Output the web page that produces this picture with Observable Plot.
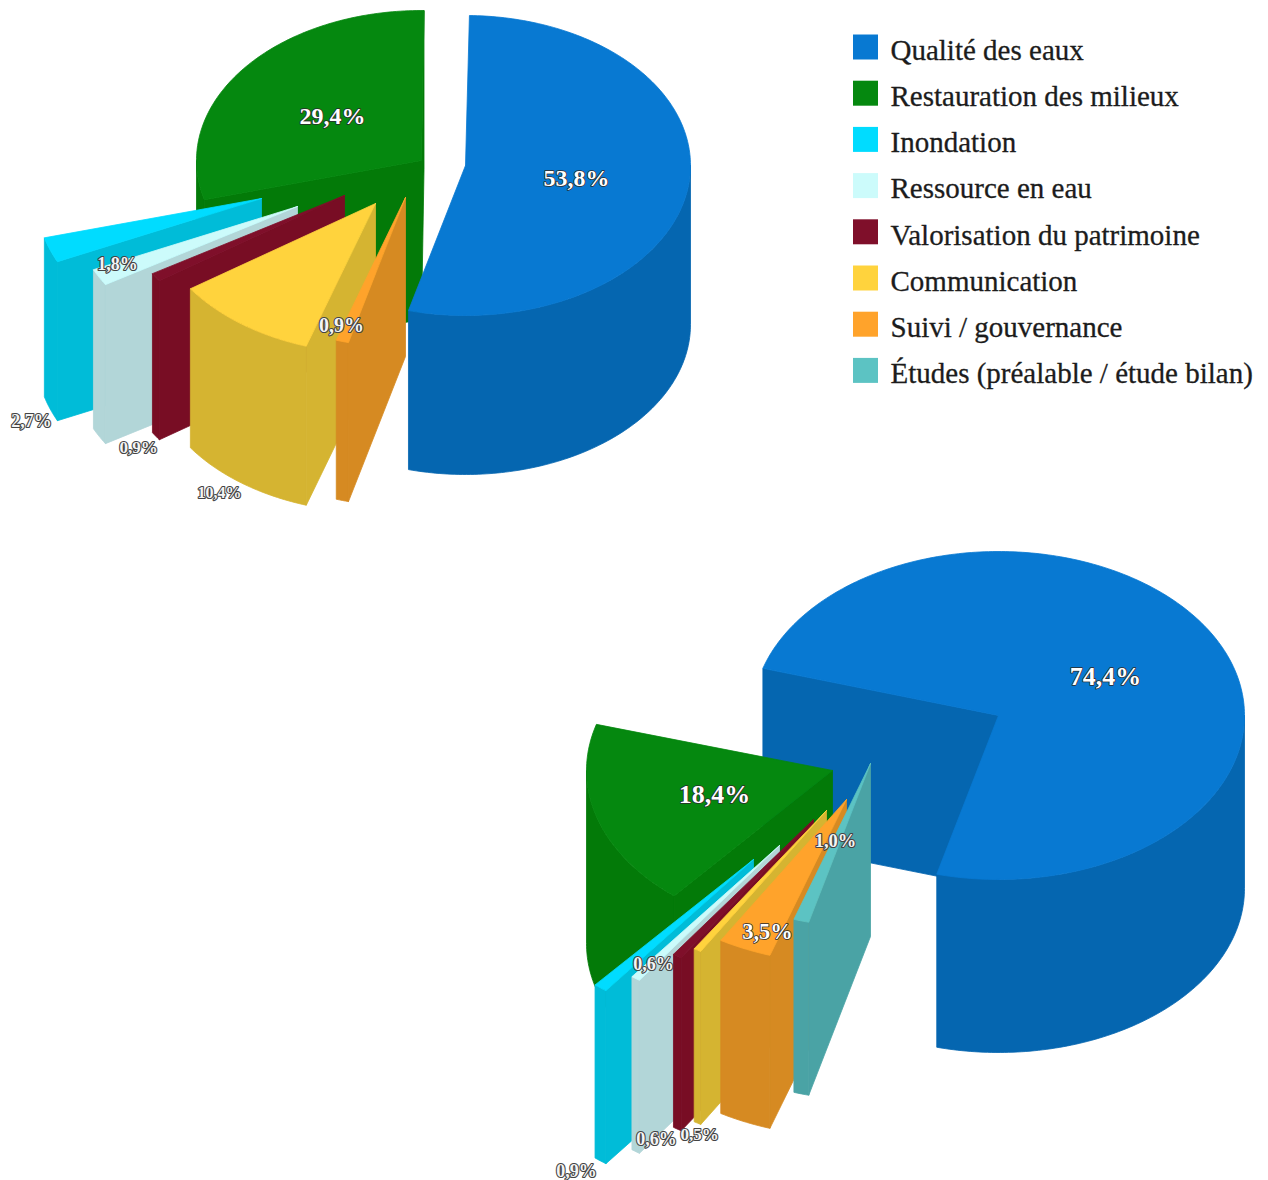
<!DOCTYPE html>
<html>
<head>
<meta charset="utf-8">
<script src="https://cdn.jsdelivr.net/npm/d3@7"></script>
<script src="https://cdn.jsdelivr.net/npm/@observablehq/plot@0.6"></script>
<style>html,body{margin:0;padding:0;background:#fff}svg{display:block}</style>
</head>
<body>
<script>
// ---- data
const categories = ["Qualité des eaux","Restauration des milieux","Inondation","Ressource en eau","Valorisation du patrimoine","Communication","Suivi / gouvernance","Études (préalable / étude bilan)"];
const valuesTop = [53.8, 29.4, 2.7, 1.8, 0.9, 10.4, 0.9, 0];
const valuesBottom = [74.4, 18.4, 0.9, 0.6, 0.6, 0.5, 3.5, 1.0];

// ---- styles
const topColors = ["#0879d2","#05880f","#00dcff","#ccfbfb","#7f0f2a","#ffd33d","#ffa32b","#5cc3c3"];
const wallColors = ["#0566b0","#037a08","#00bcd8","#b2d6d8","#780d24","#d5b431","#d68a22","#4aa3a5"];

// ---- layout: ellipse, depth, start angle, how each slice is pulled out (apex), and its label
const sweep = [0,7,6,5,4,3,2,1];   // clockwise order of the slices, starting at the first slice
const pies = [
  {values: valuesTop, rx: 225, ry: 150, depth: 159, start: 1,
   order: [1,2,3,4,5,6,0],
   apex: {0:[465,165],1:[421,160],2:[261,198],3:[297,206],4:[344,195],5:[375,203],6:[405,197]},
   labels: {0:[576,178,24],1:[332,116,24],2:[31,421,18],3:[117,264,18],4:[138,447,17],5:[219,492,16],6:[341,325,20]}},
  {values: valuesBottom, rx: 246, ry: 164, depth: 173, start: 286.7,
   order: [0,1,2,3,4,5,6,7],
   apex: {0:[998,715],1:[832,770],2:[753,859],3:[779,845],4:[813,819],5:[826,810],6:[846,799],7:[870,763]},
   labels: {0:[1105,676,26],1:[714,794,26],2:[576,1171,18],3:[653,964,18],4:[656,1139,18],5:[699,1134,17],6:[767,931,22.5],7:[835,841,18.5]}}
];
const legendX = 865, legendTextX = 890, legendY0 = 46.5, legendStep = 46.2;

// ---- geometry built from the values
const rad = d => d * Math.PI / 180;
const polygons = [], labelRows = [];
pies.forEach((pie, p) => {
  const span = {};
  let a = pie.start;
  for (const i of sweep) { span[i] = [a, a + pie.values[i] * 3.6]; a = span[i][1]; }
  const at = (i, deg, z = 0) => [
    pie.apex[i][0] + pie.rx * Math.sin(rad(deg)),
    pie.apex[i][1] - pie.ry * Math.cos(rad(deg)) + z * pie.depth
  ];
  // every outline is closed so that its stroke seals the seam with the next face
  const push = (id, key, pts) => [...pts, pts[0]].forEach(([x, y]) => polygons.push({id, key, x, y}));
  for (const i of pie.order) {
    if (!pie.values[i]) continue;
    const [a0, a1] = span[i];
    const [ax, ay] = pie.apex[i];
    const wall = categories[i] + " wall", face = categories[i];
    const cut = (deg, tag) => push(`${p}-${i}-${tag}`, wall, [[ax, ay], at(i, deg), at(i, deg, 1), [ax, ay + pie.depth]]);
    if (Math.sin(rad(a0)) < 0) cut(a0, "s");
    if (Math.sin(rad(a1)) > 0) cut(a1, "e");
    for (const [w0, w1] of [[90, 270], [450, 630]]) {
      const lo = Math.max(a0, w0), hi = Math.min(a1, w1);
      if (hi <= lo) continue;
      const n = Math.max(2, Math.ceil(hi - lo)), top = [], bot = [];
      for (let k = 0; k <= n; k++) {
        const d = lo + (hi - lo) * k / n;
        top.push(at(i, d)); bot.unshift(at(i, d, 1));
      }
      push(`${p}-${i}-o${w0}`, wall, [...top, ...bot]);
    }
    const n = Math.max(2, Math.ceil(a1 - a0)), pts = [[ax, ay]];
    for (let k = 0; k <= n; k++) pts.push(at(i, a0 + (a1 - a0) * k / n));
    push(`${p}-${i}-t`, face, pts);
    const [lx, ly, size] = pie.labels[i];
    labelRows.push({x: lx, y: ly, size, text: pie.values[i].toFixed(1).replace(".", ",") + "%"});
  }
});
const legendRows = categories.map((c, i) => ({c, y: legendY0 + i * legendStep}));
const isBig = d => d.size >= 22;

const chart = Plot.plot({
  width: 1268, height: 1180,
  marginTop: 0, marginRight: 0, marginBottom: 0, marginLeft: 0,
  x: {domain: [0, 1268], range: [0, 1268], axis: null},
  y: {domain: [0, 1180], range: [0, 1180], axis: null},
  color: {type: "ordinal",
    domain: [...categories, ...categories.map(c => c + " wall")],
    range: [...topColors, ...wallColors]},
  style: {background: "#fff"},
  marks: [
    Plot.line(polygons, {x: "x", y: "y", z: "id", fill: "key", stroke: "key", strokeWidth: 0.8, curve: "linear"}),
    Plot.text(labelRows.filter(isBig), {x: "x", y: "y", text: "text", fontSize: "size", fontFamily: "Liberation Serif", fontWeight: "bold",
      fill: "#fff", stroke: "#2b2b2b", strokeWidth: 1.6}),
    Plot.text(labelRows.filter(d => !isBig(d)), {x: "x", y: "y", text: "text", fontSize: "size", fontFamily: "Liberation Serif", fontWeight: "bold",
      fill: "#f4f4f4", stroke: "#444", strokeWidth: 2.2}),
    Plot.dot(legendRows, {x: legendX, y: "y", symbol: "square", r: 14.1, fill: "c"}),
    Plot.text(legendRows, {x: legendTextX, y: d => d.y + 3.5, text: "c", textAnchor: "start", fontSize: 29,
      fontFamily: "Liberation Serif", fill: "#1c1c1c", stroke: "#1c1c1c", strokeWidth: 0.3})
  ]
});
document.body.appendChild(chart);
</script>
</body>
</html>
